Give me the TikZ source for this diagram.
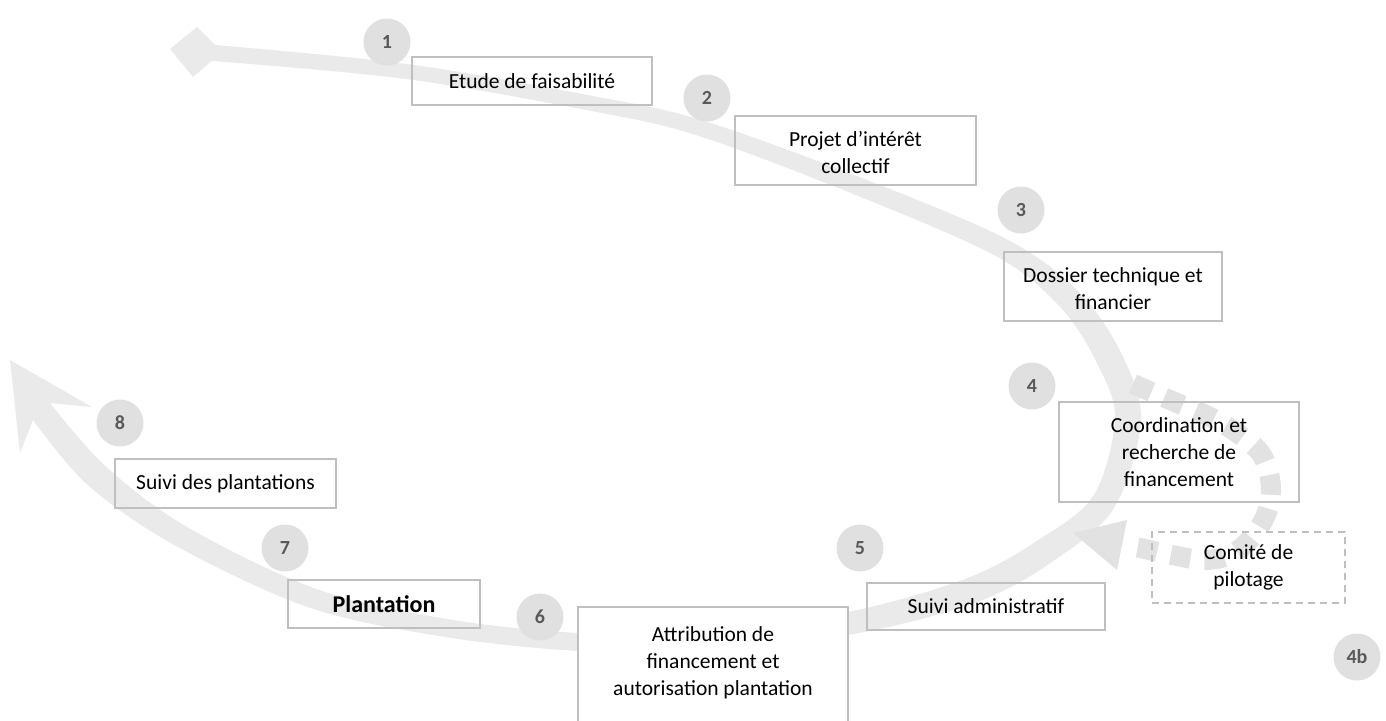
\documentclass[tikz,border=0pt]{standalone}
\usepackage{fontspec}
\setmainfont{Carlito}
\definecolor{bandc}{RGB}{234,234,234}
\definecolor{dashc}{RGB}{226,226,226}
\definecolor{boxc}{RGB}{191,191,191}
\definecolor{numc}{RGB}{89,89,89}
\definecolor{circc}{RGB}{224,224,224}
\begin{document}
\begin{tikzpicture}[x=1pt,y=-1pt,
  box/.style={draw=boxc, line width=1.6pt, inner sep=0pt, align=center,
    font=\fontsize{21.5}{27}\selectfont},
  num/.style={circle, fill=circc, minimum size=47pt, inner sep=0pt,
    text=numc, font=\fontsize{20}{22}\selectfont\bfseries},
  band/.style={fill=bandc, draw=none}
]
\useasboundingbox (0,0) rectangle (1386,720);
\clip (0,0) rectangle (1386,720);

% main curved arrow band
\path[band]
  plot[smooth, tension=0.55] coordinates {(205,45.5) (215.9,45) (411.1,64.6) (601.4,97.6) (702.4,120.4) (853.4,174.7) (1004.7,238.2) (1078.6,291.6) (1121.7,354.3) (1141.0,420.6) (1113.1,509.5) (1049.3,563.7) (985.0,599.0) (903.0,623.6) (821.5,638.9) (700.6,650.0) (579.6,651.0) (444.5,636.9) (308.7,607.4) (173.6,544.6) (87.3,484.6) (33,420)}
  -- (20,453) -- (10,360) -- (92,407) -- (50,403)
  -- plot[smooth, tension=0.55] coordinates {(50,403) (104.7,465.4) (184.4,525.4) (315.3,588.6) (447.5,619.1) (580.4,633.0) (699.4,630.0) (818.5,617.1) (897.0,600.4) (975.0,575.0) (1034.7,542.3) (1092.9,496.5) (1115.0,419.4) (1098.3,365.7) (1061.4,308.4) (995.3,255.8) (846.6,191.3) (697.6,135.6) (598.6,112.4) (408.9,79.4) (214.1,61) (205,61)}
  -- cycle;
% start diamond
\path[band] (197,27) -- (222,52) -- (193,77) -- (170,49) -- cycle;

% dashed side loop with arrowhead
\draw[dashc, line width=20pt, dash pattern=on 20pt off 14pt]
  plot[smooth, tension=0.6] coordinates {(1133,384) (1177,403) (1210,417) (1240,435) (1263,457) (1271,491) (1262,523) (1237,551) (1207,560) (1172,555) (1140,548) (1124,546)};
\fill[dashc] (1127,520) -- (1073,533) -- (1117,570) -- cycle;

% boxes
\node[box, minimum width=240pt, minimum height=48pt] (b1) at (532,81) {Etude de faisabilité};
\node[box, minimum width=241pt, minimum height=69pt] (b2) at (855.5,150.5) {\strut Projet d’intérêt\\collectif};
\node[box, minimum width=218pt, minimum height=69pt] (b3) at (1113,286.5) {\strut Dossier technique et\\financier};
\node[box, minimum width=240pt, minimum height=100pt] (b4) at (1179,452) {Coordination et\\recherche de\\financement};
\node[box, dash pattern=on 7pt off 5pt, minimum width=193pt, minimum height=71pt] (b4b) at (1248.5,567.5) {Comité de\\pilotage};
\node[box, minimum width=238pt, minimum height=47pt] (b5) at (986,606.5) {Suivi administratif};
\node[box, fill=white, minimum width=270pt, minimum height=120pt] (b6) at (713,667) {};
\node[box, draw=none, anchor=north] (b6t) at (713,626) {Attribution de\\financement et\\autorisation plantation};
\node[box, minimum width=192pt, minimum height=48pt, font=\fontsize{24}{28}\selectfont\bfseries] (b7) at (384,604) {Plantation};
\node[box, minimum width=221pt, minimum height=49pt] (b8) at (225.5,483.5) {Suivi des plantations};

% numbered circles
\node[num] (n1) at (387,42) {1};
\node[num] (n2) at (707,98) {2};
\node[num] (n3) at (1021,210) {3};
\node[num] (n4) at (1032,386) {4};
\node[num] (n4b) at (1357,657) {4b};
\node[num] (n5) at (860,548) {5};
\node[num] (n6) at (540,617) {6};
\node[num] (n7) at (285,548) {7};
\node[num] (n8) at (120,423) {8};
\end{tikzpicture}
\end{document}
